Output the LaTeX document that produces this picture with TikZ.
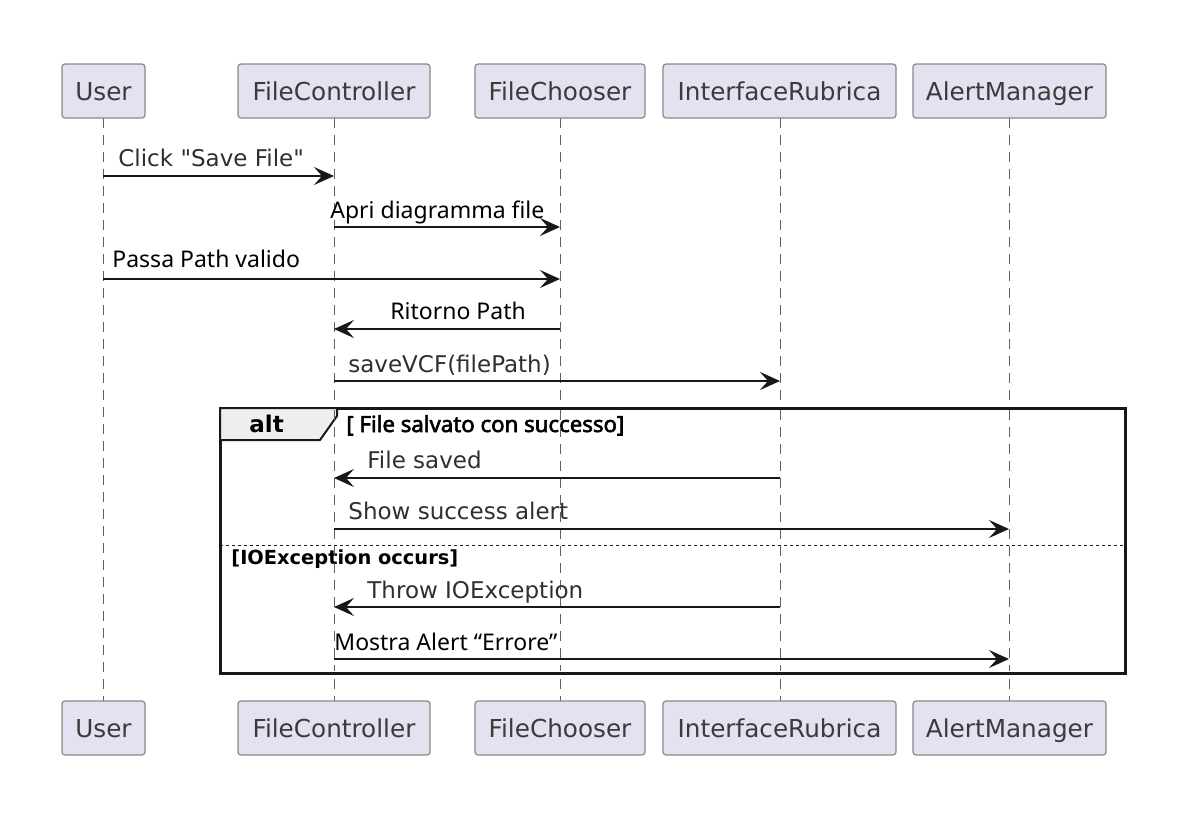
\documentclass[tikz,border=0pt]{standalone}
\usepackage{fontspec}
\setmainfont{DejaVu Sans}
\newfontfamily\noto{Noto Sans}
\newfontfamily\notofb{Noto Sans}[FakeBold=2.6]
\newcommand{\dq}{\XeTeXglyph\XeTeXcharglyph"0022\relax}
\usetikzlibrary{arrows.meta}
\definecolor{partfill}{HTML}{E2E2F0}
\definecolor{partdraw}{HTML}{8A8A8A}
\definecolor{ink}{HTML}{181818}
\definecolor{tabfill}{HTML}{EEEEEE}
\begin{document}
\begin{tikzpicture}[x=0.5pt,y=-0.5pt,
 part/.style={draw=partdraw, fill=partfill, rounded corners=1.5pt, line width=0.6pt,
   minimum height=27pt, inner sep=0pt, text height=9pt, text depth=0pt,
   font=\fontsize{12.35}{14}\selectfont, text=ink!85!white},
 life/.style={draw=gray!75!black, dash pattern=on 5pt off 3.5pt, line width=0.5pt},
 msg/.style={draw=ink, line width=0.75pt, -{Stealth[length=10pt,width=9pt,inset=4pt]}},
 lbl/.style={anchor=base west, inner sep=0pt, font=\fontsize{11.5}{13}\selectfont, text=ink!90!white},
 nlbl/.style={anchor=base west, inner sep=0pt, font=\noto\fontsize{11.5}{13}\selectfont, text=black},
 guard/.style={anchor=base west, inner sep=0pt, font=\bfseries\fontsize{9.7}{11}\selectfont, text=black},
 frame/.style={draw=ink, line width=1.5pt},
 tab/.style={draw=ink, line width=1pt, fill=tabfill},
 sep/.style={draw=ink, line width=0.5pt, dash pattern=on 1.5pt off 1.5pt}]
\useasboundingbox (0,0) rectangle (1188,819);
\fill[white] (0,0) rectangle (1188,819);

% lifelines
\foreach \x in {103,334,560,780,1009}{
  \draw[life] (\x,118) -- (\x,701);
}

% participants
\node[part, minimum width=41.5pt] (Ut) at (103.5,91) {User};
\node[part, minimum width=96pt] (FCt) at (334,91) {FileController};
\node[part, minimum width=85pt] (CHt) at (560,91) {FileChooser};
\node[part, minimum width=116.5pt] (IRt) at (779.5,91) {InterfaceRubrica};
\node[part, minimum width=96.5pt] (AMt) at (1009.5,91) {AlertManager};
\node[part, minimum width=41.5pt] (Ub) at (103.5,728) {User};
\node[part, minimum width=96pt] (FCb) at (334,728) {FileController};
\node[part, minimum width=85pt] (CHb) at (560,728) {FileChooser};
\node[part, minimum width=116.5pt] (IRb) at (779.5,728) {InterfaceRubrica};
\node[part, minimum width=96.5pt] (AMb) at (1009.5,728) {AlertManager};

% message endpoints
\coordinate (m1a) at (103,176); \coordinate (m1b) at (334,176);
\coordinate (m2a) at (334,227); \coordinate (m2b) at (560,227);
\coordinate (m3a) at (103,279); \coordinate (m3b) at (560,279);
\coordinate (m4a) at (560,329); \coordinate (m4b) at (334,329);
\coordinate (m5a) at (334,381); \coordinate (m5b) at (780,381);
\coordinate (m6a) at (780,478); \coordinate (m6b) at (334,478);
\coordinate (m7a) at (334,529); \coordinate (m7b) at (1009,529);
\coordinate (m8a) at (780,607); \coordinate (m8b) at (334,607);
\coordinate (m9a) at (334,659); \coordinate (m9b) at (1009,659);

% alt frame
\coordinate (f1) at (220,408); \coordinate (f2) at (1125,673);
\draw[frame, fill=white] (f1) rectangle (f2);
\draw[tab] (220,408) -- (337,408) -- (337,416) -- (320,440) -- (220,440) -- cycle;
\node[guard, font=\bfseries\fontsize{11.5}{13}\selectfont] (altl) at (249,432) {alt};
\node[anchor=base west, inner sep=0pt, font=\notofb\fontsize{11.1}{13}\selectfont] (g1) at (346,432) {[ File salvato con successo]};
\coordinate (s1) at (220,545); \coordinate (s2) at (1125,545);
\draw[sep] (s1) -- (s2);
\node[guard] (g2) at (231,564) {[IOException occurs]};

% lifelines inside frame
\foreach \x in {334,560,780,1009}{
  \draw[life] (\x,410) -- (\x,671);
}

% messages
\draw[msg] (m1a) -- (m1b);
\node[lbl] (l1) at (118,166) {Click \dq Save File\dq};
\draw[msg] (m2a) -- (m2b);
\node[nlbl] (l2) at (330,218) {Apri diagramma file};
\draw[msg] (m3a) -- (m3b);
\node[nlbl] (l3) at (112,267) {Passa Path valido};
\draw[msg] (m4a) -- (m4b);
\node[nlbl] (l4) at (390,319) {Ritorno Path};
\draw[msg] (m5a) -- (m5b);
\node[lbl] (l5) at (348,372) {saveVCF(filePath)};
\draw[msg] (m6a) -- (m6b);
\node[lbl] (l6) at (367,468) {File saved};
\draw[msg] (m7a) -- (m7b);
\node[lbl] (l7) at (348,519) {Show success alert};
\draw[msg] (m8a) -- (m8b);
\node[lbl] (l8) at (367,598) {Throw IOException};
\draw[msg] (m9a) -- (m9b);
\node[nlbl] (l9) at (334,650) {Mostra Alert “Errore”};
\end{tikzpicture}
\end{document}
